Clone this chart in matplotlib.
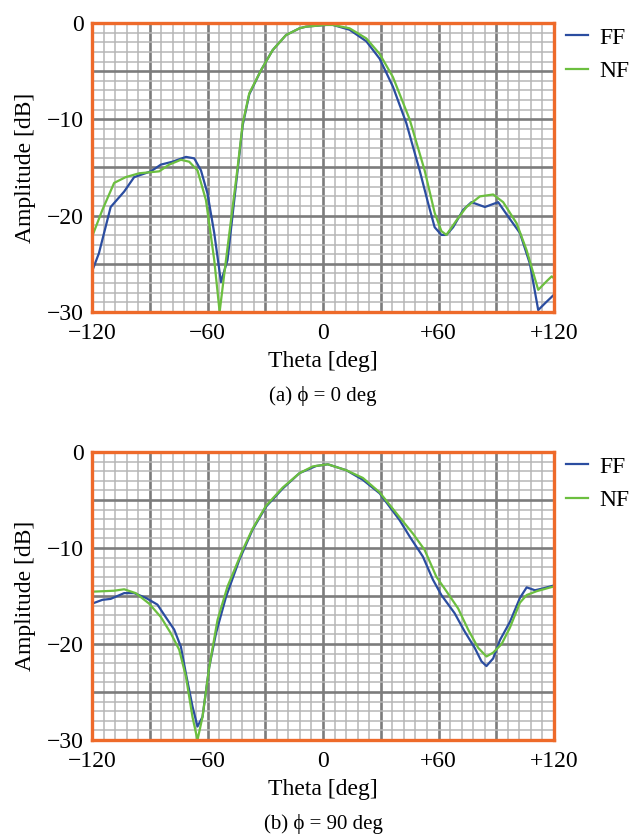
import matplotlib
matplotlib.use("Agg")
import matplotlib.pyplot as plt
import numpy as np

plt.rcParams['font.family'] = ['Liberation Serif', 'DejaVu Serif']
plt.rcParams['mathtext.fontset'] = 'stix'

# ---- data: (a) phi = 0 deg ----
a_ff_theta = [-120, -116.4, -110.3, -103.3, -98.1, -89.4, -84.2, -78.2, -71.2, -66.9, -63.4, -60.0,
              -56.5, -53.0, -49.6, -44.3, -41.7, -38.3, -32.2, -26.1, -19.2, -12.2, -8.8, 1.6, 5.1,
              13.8, 22.5, 29.4, 36.3, 43.3, 50.2, 54.6, 58.0, 61.5, 64.1, 67.6, 72.8, 77.1, 84.1,
              91.0, 96.2, 102.3, 107.5, 111.8, 115.3, 120]
a_ff_db = [-25.8, -23.9, -19.1, -17.5, -16.0, -15.4, -14.7, -14.4, -13.9, -14.05, -15.3, -17.7,
           -21.8, -26.9, -24.6, -15.2, -10.6, -7.4, -4.9, -2.8, -1.25, -0.55, -0.38, -0.2, -0.2,
           -0.7, -1.9, -3.7, -6.6, -10.4, -15.3, -18.7, -21.2, -22.0, -22.0, -21.2, -19.4, -18.6,
           -19.1, -18.6, -20.1, -21.8, -25.0, -29.8, -29.1, -28.2]

a_nf_theta = [-120, -114.6, -108.5, -102.5, -95.5, -85.1, -79.9, -73.8, -69.5, -65.2, -60.8, -56.5,
              -53.7, -50.4, -44.3, -41.7, -38.3, -32.2, -26.1, -19.2, -12.2, -8.8, 1.6, 5.1, 13.8,
              22.5, 29.4, 36.3, 45.0, 52.8, 58.0, 61.5, 64.1, 69.3, 74.5, 81.5, 88.4, 93.6, 100.6,
              105.8, 111.8, 116.2, 118.8, 120]
a_nf_db = [-22.2, -19.4, -16.6, -16.0, -15.6, -15.4, -14.7, -14.2, -14.4, -15.3, -18.4, -24.6,
           -30.0, -24.6, -14.9, -10.4, -7.3, -4.9, -2.8, -1.25, -0.55, -0.38, -0.2, -0.2, -0.55,
           -1.6, -3.2, -5.6, -10.0, -15.3, -19.7, -21.6, -22.0, -20.5, -19.1, -18.0, -17.8, -18.6,
           -20.8, -23.6, -27.7, -26.8, -26.3, -26.5]

# ---- data: (b) phi = 90 deg ----
b_ff_theta = [-120, -114.6, -110.3, -103.3, -98.1, -92.0, -86.0, -81.7, -77.3, -73.8, -71.2, -67.8,
              -65.2, -62.6, -59.1, -55.6, -50.4, -43.5, -36.6, -29.6, -20.9, -12.2, -3.6, 2.5, 12.1,
              20.7, 29.4, 39.8, 45.0, 51.9, 57.1, 61.5, 68.4, 73.6, 78.8, 82.3, 84.9, 88.4, 91.9,
              97.1, 102.3, 105.8, 110.1, 114.5, 120]
b_ff_db = [-15.8, -15.4, -15.3, -14.7, -14.7, -15.2, -15.9, -17.2, -18.5, -20.3, -23.1, -26.5,
           -28.6, -27.6, -22.4, -18.9, -15.1, -11.25, -8.1, -5.7, -3.8, -2.2, -1.46, -1.28, -1.9,
           -2.9, -4.3, -7.1, -8.8, -10.9, -13.3, -14.9, -16.8, -18.7, -20.4, -21.8, -22.3, -21.5,
           -19.6, -17.7, -15.2, -14.1, -14.4, -14.2, -13.9]

b_nf_theta = [-120, -114.0, -108.5, -103.3, -97.3, -90.3, -84.2, -79.0, -74.7, -71.2, -67.8, -65.2,
              -62.6, -59.1, -54.8, -49.6, -41.7, -36.6, -29.6, -20.9, -12.2, -5.3, 2.5, 12.1, 20.7,
              29.4, 39.8, 46.7, 52.8, 58.9, 64.1, 70.2, 75.4, 80.6, 84.9, 88.4, 92.8, 97.1, 102.3,
              105.8, 111.0, 120]
b_nf_db = [-14.55, -14.5, -14.45, -14.3, -14.7, -15.8, -17.2, -18.9, -20.6, -23.4, -27.6, -30.0,
           -27.6, -22.4, -17.5, -14.0, -10.2, -8.0, -5.6, -3.7, -2.2, -1.5, -1.28, -1.9, -2.7,
           -4.2, -6.8, -8.5, -10.2, -13.0, -14.5, -16.3, -18.5, -20.4, -21.3, -20.9, -20.0, -18.3,
           -15.7, -14.9, -14.5, -14.0]

x_major = [-120, -90, -60, -30, 0, 30, 60, 90, 120]
x_labels = ['\u2212120', '', '\u221260', '', '0', '', '+60', '', '+120']
y_major = [-30, -25, -20, -15, -10, -5, 0]
y_labels = ['\u221230', '', '\u221220', '', '\u221210', '', '0']
series_names = ['FF', 'NF']
captions = ['(a) \u03d5 = 0 deg', '(b) \u03d5 = 90 deg']

blue = '#2b4da0'
green = '#6cbf3f'
orange = '#ee6a2a'

W, H = 629, 836
fig = plt.figure(figsize=(W / 100, H / 100), dpi=100)
ax_left, ax_right = 92, 554
boxes = [(23, 312), (452, 740)]
datasets = [(a_ff_theta, a_ff_db, a_nf_theta, a_nf_db), (b_ff_theta, b_ff_db, b_nf_theta, b_nf_db)]
FS = 17

for (top, bot), (ft, fd, nt, nd), cap in zip(boxes, datasets, captions):
    wpx = ax_right - ax_left
    hpx = bot - top
    ax = fig.add_axes([ax_left / W, (H - bot) / H, wpx / W, hpx / H])
    ax.plot(ft, fd, color=blue, lw=1.6, label=series_names[0], zorder=3)
    ax.plot(nt, nd, color=green, lw=1.6, label=series_names[1], zorder=3)
    ax.set_xlim(-120, 120)
    ax.set_ylim(-30, 0)
    ax.set_xticks(x_major)
    ax.set_xticklabels(x_labels)
    ax.set_xticks(np.arange(-120, 121, 6), minor=True)
    ax.set_yticks(y_major)
    ax.set_yticklabels(y_labels)
    ax.set_yticks(np.arange(-30, 1, 1), minor=True)
    ax.grid(which='minor', color='#b6b6b6', lw=1.1, zorder=1)
    ax.grid(which='major', color='#7c7c7c', lw=1.9, zorder=2)
    ax.set_axisbelow(True)
    ax.tick_params(which='both', length=0, labelsize=FS)
    ax.tick_params(axis='x', pad=8)
    ax.tick_params(axis='y', pad=6)
    for s in ax.spines.values():
        s.set_color(orange)
        s.set_linewidth(2.4)
        s.set_zorder(4)
    ax.set_xlabel('Theta [deg]', fontsize=FS)
    ax.xaxis.set_label_coords(0.5, -39 / hpx)
    ax.set_ylabel('Amplitude [dB]', fontsize=FS)
    ax.yaxis.set_label_coords(-(ax_left - 36) / wpx, 0.5)
    ax.legend(loc='upper left', bbox_to_anchor=(1 + 12 / wpx, 1.0 - 4 / hpx), frameon=False,
              fontsize=FS, handlelength=0.95, handletextpad=0.45, borderaxespad=0, borderpad=0,
              labelspacing=0.5)
    ax.text(0.5, -84 / hpx, cap, transform=ax.transAxes, ha='center', va='center', fontsize=15)

fig.savefig('out.png', dpi=100)
